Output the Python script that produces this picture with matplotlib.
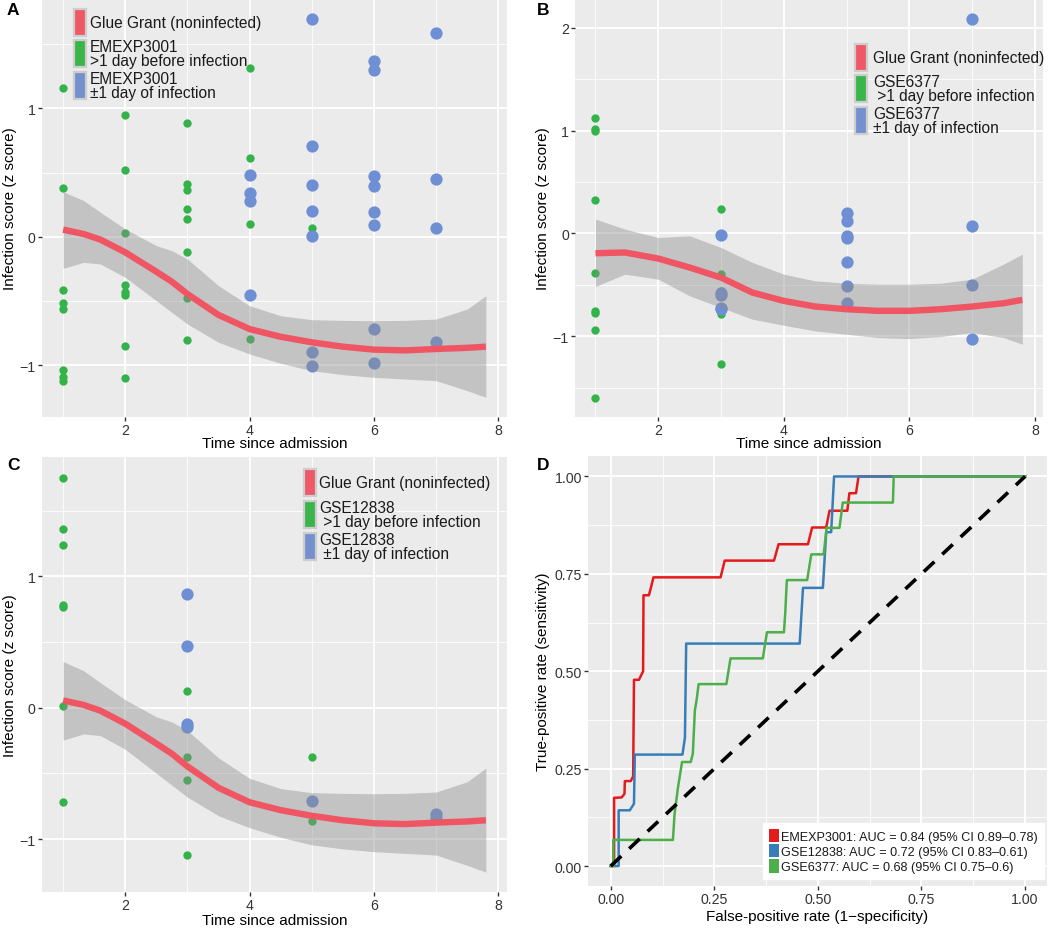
import matplotlib
matplotlib.use('Agg')
import matplotlib.pyplot as plt
from matplotlib.patches import Rectangle, Patch
import numpy as np

plt.rcParams['font.family'] = ['Liberation Sans', 'DejaVu Sans']

# ---------------- data ----------------
# Panel A: EMEXP3001 (x = day since admission, y = infection z score)
a_green_x = [1, 1, 1, 1, 1, 1, 1, 1, 2, 2, 2, 2, 2, 2, 2, 2,
             3, 3, 3, 3, 3, 3, 3, 3, 4, 4, 4, 4, 5]
a_green_y = [1.161, 0.379, -0.416, -0.52, -0.564, -1.04, -1.096, -1.122,
             0.946, 0.517, 0.029, -0.374, -0.429, -0.452, -0.852, -1.104,
             0.889, 0.408, 0.366, 0.218, 0.138, -0.122, -0.481, -0.803,
             1.317, 0.616, 0.099, -0.798, 0.065]
a_blue_x = [4, 4, 4, 4, 5, 5, 5, 5, 5, 5, 5, 6, 6, 6, 6, 6, 6, 6, 6, 7, 7, 7, 7]
a_blue_y = [0.478, 0.338, 0.275, -0.452,
            1.699, 0.709, 0.403, 0.2, 0.008, -0.896, -1.011,
            1.367, 1.302, 0.473, 0.392, 0.195, 0.091, -0.72, -0.987,
            1.585, 0.452, 0.07, -0.818]

# Panel B: GSE6377
b_green_x = [1, 1, 1, 1, 1, 1, 1, 1, 1, 3, 3, 3, 3, 3]
b_green_y = [1.12, 1.016, 0.997, 0.325, -0.38, -0.753, -0.776, -0.935, -1.604,
             0.234, -0.39, -0.562, -0.779, -1.269]
b_blue_x = [3, 3, 3, 3, 3, 5, 5, 5, 5, 5, 5, 5, 7, 7, 7, 7]
b_blue_y = [-0.013, -0.581, -0.597, -0.721, -0.737,
            0.198, 0.117, -0.023, -0.045, -0.282, -0.51, -0.672,
            2.091, 0.071, -0.503, -1.026]

# Panel C: GSE12838
c_green_x = [1, 1, 1, 1, 1, 1, 1, 3, 3, 3, 3, 5, 5]
c_green_y = [1.751, 1.361, 1.235, 0.782, 0.77, 0.013, -0.717,
             0.128, -0.372, -0.548, -1.119, -0.375, -0.865]
c_blue_x = [3, 3, 3, 3, 5, 7, 7]
c_blue_y = [0.863, 0.47, -0.121, -0.146, -0.709, -0.81, -0.838]

# Glue Grant (noninfected) loess fit with 95% band, panels A and C
gg_x = [1, 1.33, 1.6, 2, 2.5, 2.75, 3, 3.5, 4, 4.5, 5, 5.5, 6, 6.5, 7, 7.5, 7.8]
gg_fit = [0.055, 0.021, -0.023, -0.122, -0.273, -0.351, -0.447, -0.61, -0.72,
          -0.78, -0.823, -0.857, -0.88, -0.886, -0.875, -0.866, -0.857]
gg_lo = [-0.247, -0.2, -0.213, -0.317, -0.499, -0.59, -0.681, -0.823, -0.914,
         -0.987, -1.044, -1.075, -1.096, -1.109, -1.122, -1.2, -1.252]
gg_hi = [0.351, 0.281, 0.19, 0.06, -0.07, -0.109, -0.174, -0.382, -0.538,
         -0.616, -0.647, -0.652, -0.655, -0.652, -0.642, -0.564, -0.46]

# Glue Grant fit on panel B
gb_x = [1, 1.47, 2, 2.5, 3, 3.5, 4, 4.5, 5, 5.5, 6, 6.5, 7, 7.5, 7.8]
gb_fit = [-0.192, -0.185, -0.244, -0.331, -0.429, -0.575, -0.656, -0.711,
          -0.737, -0.753, -0.753, -0.737, -0.711, -0.679, -0.646]
gb_lo = [-0.516, -0.396, -0.445, -0.607, -0.721, -0.834, -0.893, -0.948,
         -0.981, -1.013, -1.023, -1.003, -0.964, -1.013, -1.078]
gb_hi = [0.14, 0.042, -0.039, -0.023, -0.136, -0.282, -0.396, -0.461,
         -0.484, -0.494, -0.494, -0.484, -0.445, -0.299, -0.201]

# Panel D: ROC curves
roc_names = ['EMEXP3001: AUC = 0.84 (95% CI 0.89\u20130.78)',
             'GSE12838: AUC = 0.72 (95% CI 0.83\u20130.61)',
             'GSE6377: AUC = 0.68 (95% CI 0.75\u20130.6)']
em_fpr = [0, 0.008, 0.008, 0.026, 0.033, 0.034, 0.048, 0.054, 0.056, 0.068,
          0.078, 0.079, 0.092, 0.097, 0.103, 0.265, 0.275, 0.394, 0.405,
          0.476, 0.486, 0.52, 0.528, 0.571, 0.576, 0.592, 0.598, 1.0]
em_tpr = [0, 0, 0.175, 0.176, 0.185, 0.218, 0.218, 0.23, 0.478, 0.478, 0.5,
          0.695, 0.695, 0.715, 0.741, 0.741, 0.784, 0.784, 0.826, 0.826,
          0.869, 0.869, 0.912, 0.912, 0.957, 0.957, 1.0, 1.0]
gse12838_fpr = [0, 0.012, 0.019, 0.019, 0.046, 0.056, 0.058, 0.173, 0.179,
                0.182, 0.456, 0.464, 0.512, 0.52, 0.532, 0.539, 1.0]
gse12838_tpr = [0, 0, 0, 0.143, 0.143, 0.16, 0.286, 0.286, 0.33, 0.571,
                0.571, 0.714, 0.714, 0.857, 0.857, 1.0, 1.0]
gse6377_fpr = [0, 0.006, 0.006, 0.15, 0.154, 0.162, 0.172, 0.193, 0.198,
               0.203, 0.207, 0.212, 0.279, 0.289, 0.367, 0.377, 0.418, 0.421,
               0.425, 0.474, 0.484, 0.514, 0.521, 0.552, 0.56, 0.681, 0.683, 1.0]
gse6377_tpr = [0, 0, 0.067, 0.067, 0.134, 0.2, 0.267, 0.267, 0.288, 0.4,
               0.425, 0.467, 0.467, 0.533, 0.533, 0.6, 0.6, 0.647, 0.734,
               0.734, 0.8, 0.8, 0.868, 0.868, 0.933, 0.933, 1.0, 1.0]

# ---------------- style ----------------
W, H = 1050, 929
fig = plt.figure(figsize=(W / 100, H / 100), dpi=100)
PANEL = '#EBEBEB'
GREEN = '#34b34a'
BLUE = '#6f8fd4'
FIT = '#f05564'
KEY_RED, KEY_GREEN, KEY_BLUE = '#ef5866', '#3ab54a', '#7590cf'
TXT = '#333333'


def px_axes(l, t, r, b):
    return fig.add_axes([l / W, 1 - b / H, (r - l) / W, (b - t) / H])


def gg_style(ax, xmajor, xminor, ymajor, yminor):
    ax.set_facecolor(PANEL)
    for s in ax.spines.values():
        s.set_visible(False)
    ax.set_xticks(xmajor)
    ax.set_yticks(ymajor)
    ax.set_xticks(xminor, minor=True)
    ax.set_yticks(yminor, minor=True)
    ax.grid(which='major', color='white', lw=1.3, zorder=0)
    ax.grid(which='minor', color='white', lw=0.6, zorder=0)
    ax.set_axisbelow(True)
    ax.tick_params(which='major', length=3, width=1, color='#333333',
                   labelsize=10.2, labelcolor=TXT, pad=1.5)
    ax.tick_params(which='minor', length=0)


def key_legend(entries, xk, tops, xt):
    # entries: list of (label, color); tops: key top in figure pixels
    for (lab, col), top in zip(entries, tops):
        fig.patches.append(Rectangle((xk / W, 1 - (top + 27) / H), 12 / W, 27 / H,
                                     transform=fig.transFigure, facecolor=col,
                                     edgecolor='#cdcdcd', lw=1.6, zorder=5))
        fig.text(xt / W, 1 - (top + 13.5) / H, lab, fontsize=11.2, color='#1a1a1a',
                 va='center', ha='left', linespacing=0.95, zorder=6)


def scatter_panel(ax, gx, gy, bx, by, sx, sfit, slo, shi):
    ax.scatter(gx, gy, s=36, color=GREEN, lw=0, zorder=2)
    ax.scatter(bx, by, s=78, color=BLUE, lw=0, zorder=2)
    ax.fill_between(sx, slo, shi, color='#8c8c8c', alpha=0.42, lw=0, zorder=3)
    ax.plot(sx, sfit, color=FIT, lw=4.6, solid_capstyle='butt', zorder=4)
    ax.set_xlim(0.66, 8.14)
    ax.set_xlabel('Time since admission', fontsize=11, color='black', labelpad=-1)
    ax.set_ylabel('Infection score (z score)', fontsize=11, color='black', labelpad=2)


# ---------------- panel A ----------------
axA = px_axes(42, 0, 507, 418)
gg_style(axA, [2, 4, 6, 8], [1, 3, 5, 7], [-1, 0, 1], [-0.5, 0.5, 1.5])
scatter_panel(axA, a_green_x, a_green_y, a_blue_x, a_blue_y, gg_x, gg_fit, gg_lo, gg_hi)
axA.set_ylim(-1.405, 1.852)

# ---------------- panel B ----------------
axB = px_axes(575, 0, 1043, 418)
gg_style(axB, [2, 4, 6, 8], [1, 3, 5, 7], [-1, 0, 1, 2], [-1.5, -0.5, 0.5, 1.5])
scatter_panel(axB, b_green_x, b_green_y, b_blue_x, b_blue_y, gb_x, gb_fit, gb_lo, gb_hi)
axB.set_ylim(-1.786, 2.282)
axB.set_xlim(0.674, 8.13)

# ---------------- panel C ----------------
axC = px_axes(42, 458, 507, 893)
gg_style(axC, [2, 4, 6, 8], [1, 3, 5, 7], [-1, 0, 1], [-0.5, 0.5, 1.5])
scatter_panel(axC, c_green_x, c_green_y, c_blue_x, c_blue_y, gg_x, gg_fit, gg_lo, gg_hi)
axC.set_ylim(-1.403, 1.908)
axC.set_xlabel('Time since admission', fontsize=11, color='black', labelpad=0.3)

# ---------------- panel D ----------------
axD = px_axes(588, 457, 1047, 887)
ticks = [0, 0.25, 0.5, 0.75, 1.0]
gg_style(axD, ticks, [0.125, 0.375, 0.625, 0.875], ticks, [0.125, 0.375, 0.625, 0.875])
axD.xaxis.set_major_formatter(matplotlib.ticker.FormatStrFormatter('%.2f'))
axD.yaxis.set_major_formatter(matplotlib.ticker.FormatStrFormatter('%.2f'))
roc_cols = ['#E41A1C', '#377EB8', '#4DAF4A']
axD.plot(em_fpr, em_tpr, color=roc_cols[0], lw=1.8, zorder=3)
axD.plot(gse12838_fpr, gse12838_tpr, color=roc_cols[1], lw=1.8, zorder=3)
axD.plot(gse6377_fpr, gse6377_tpr, color=roc_cols[2], lw=1.8, zorder=4)
axD.plot([0, 1], [0, 1], color='black', lw=2.6, dashes=(4, 3), zorder=5)
axD.set_xlim(-0.055, 1.053)
axD.set_ylim(-0.0513, 1.0525)
axD.set_xlabel('False-positive rate (1\u2212specificity)', fontsize=11, color='black', labelpad=2)
axD.set_ylabel('True-positive rate (sensitivity)', fontsize=11, color='black', labelpad=3)
handles = [Patch(facecolor=c, edgecolor='none') for c in roc_cols]
leg = axD.legend(handles, roc_names, loc='lower right', bbox_to_anchor=(0.993, 0.016),
                 prop={'size': 9.1},
                 frameon=True, fancybox=False, framealpha=1, edgecolor='white',
                 facecolor='white', handlelength=0.85, handleheight=1.25,
                 handletextpad=0.15, labelspacing=0.12, borderpad=0.45, borderaxespad=0)
for t in leg.get_texts():
    t.set_color('#1a1a1a')

# ---------------- legends for A, B, C ----------------
key_legend([('Glue Grant (noninfected)', KEY_RED),
            ('EMEXP3001\n>1 day before infection', KEY_GREEN),
            ('EMEXP3001\n\u00b11 day of infection', KEY_BLUE)],
           74, [10, 41, 73], 90)
key_legend([('Glue Grant (noninfected)', KEY_RED),
            ('GSE6377\n >1 day before infection', KEY_GREEN),
            ('GSE6377\n\u00b11 day of infection', KEY_BLUE)],
           855, [45, 76, 108], 873)
key_legend([('Glue Grant (noninfected)', KEY_RED),
            ('GSE12838\n >1 day before infection', KEY_GREEN),
            ('GSE12838\n \u00b11 day of infection', KEY_BLUE)],
           304, [470, 502, 534], 319)

# panel letters
for lab, x, y in [('A', 7, 3), ('B', 537, 3), ('C', 7, 458), ('D', 537, 458)]:
    fig.text(x / W, 1 - y / H, lab, fontsize=12.5, fontweight='bold', va='top', ha='left')

fig.savefig('out.png', dpi=100)
